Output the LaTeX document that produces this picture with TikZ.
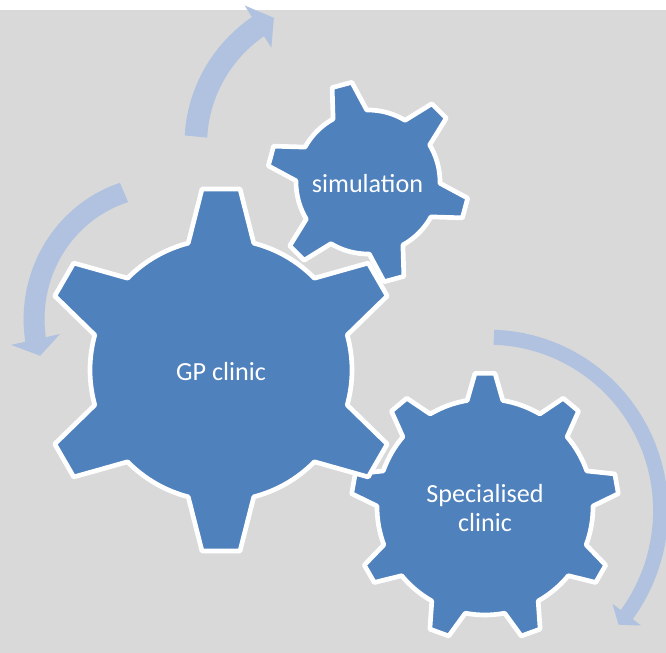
\documentclass[tikz,border=0pt]{standalone}
\usepackage{fontspec}
\setmainfont{Carlito}

\definecolor{gearblue}{HTML}{4F81BD}
\definecolor{backgrey}{HTML}{D9D9D9}
\definecolor{arrowblue}{HTML}{B0C2DF}

\tikzset{
  gearshape/.style={fill=gearblue, draw=white, line width=4pt, line join=round},
  geartext/.style={text=white, align=center, inner sep=0pt, font=\fontsize{22.3pt}{24pt}\selectfont},
  looparrowfill/.style={fill=arrowblue, draw=none},
}

% gear: centre, teeth, first tooth angle, body radius, tip radius, root half angle, tip half angle
\newcommand{\gearpath}[7]{%
  \pgfmathsetmacro\gstep{360/#2}
  \pgfmathtruncatemacro\glast{#2-1}
  \filldraw[gearshape, shift={#1}] (#3-#6:#4)
    \foreach \k [evaluate=\k as \ga using #3+\k*\gstep] in {0,...,\glast} {
      -- (\ga-#7:#5) -- (\ga+#7:#5) -- (\ga+#6:#4)
      arc[start angle=\ga+#6, end angle=\ga+\gstep-#6, radius=#4]
    } -- cycle;
}

% curved arrow: cx, cy, start angle, end angle, start radius, end radius, half shaft, half head, head angle
\newcommand{\looparrow}[9]{%
  \fill[looparrowfill]
    plot[domain=#3:#4, samples=40] ({#1+(#5+(#6-#5)*(\x-(#3))/((#4)-(#3))+#7)*cos(\x)}, {#2+(#5+(#6-#5)*(\x-(#3))/((#4)-(#3))+#7)*sin(\x)})
    -- ({#1+(#6+#8)*cos(#4)}, {#2+(#6+#8)*sin(#4)})
    -- ({#1+#6*cos(#4+#9)}, {#2+#6*sin(#4+#9)})
    -- ({#1+(#6-#8)*cos(#4)}, {#2+(#6-#8)*sin(#4)})
    -- plot[domain=#4:#3, samples=40] ({#1+(#5+(#6-#5)*(\x-(#3))/((#4)-(#3))-#7)*cos(\x)}, {#2+(#5+(#6-#5)*(\x-(#3))/((#4)-(#3))-#7)*sin(\x)})
    -- cycle;
}

\begin{document}
\begin{tikzpicture}[x=0.03cm, y=-0.03cm]
\useasboundingbox (0,0) rectangle (666,653);
\fill[white] (0,0) rectangle (666,10);
\fill[backgrey] (0,10) rectangle (666,653);

% arrows round the gears
\looparrow{336}{150}{185.5}{237.7}{140.7}{146}{11.3}{25}{7.1}
\looparrow{173}{309}{247.2}{167.5}{126.4}{140.8}{10.5}{25}{-6.9}
\looparrow{485}{507}{-87}{37.2}{170}{178}{7.5}{18}{4.2}

% gears
\gearpath{(485,507)}{9}{-90}{108}{134}{9.5}{4.3}
\gearpath{(221,370)}{6}{-90}{131}{182}{14.5}{6}
\gearpath{(368,182)}{6}{15}{72}{101}{14}{5.8}

\node[geartext] (gp) at (221,371.5) {GP clinic};
\node[geartext] (sim) at (367.5,184) {simulation};
\node[geartext] (spec) at (485,508) {Specialised\\clinic};
\end{tikzpicture}
\end{document}
